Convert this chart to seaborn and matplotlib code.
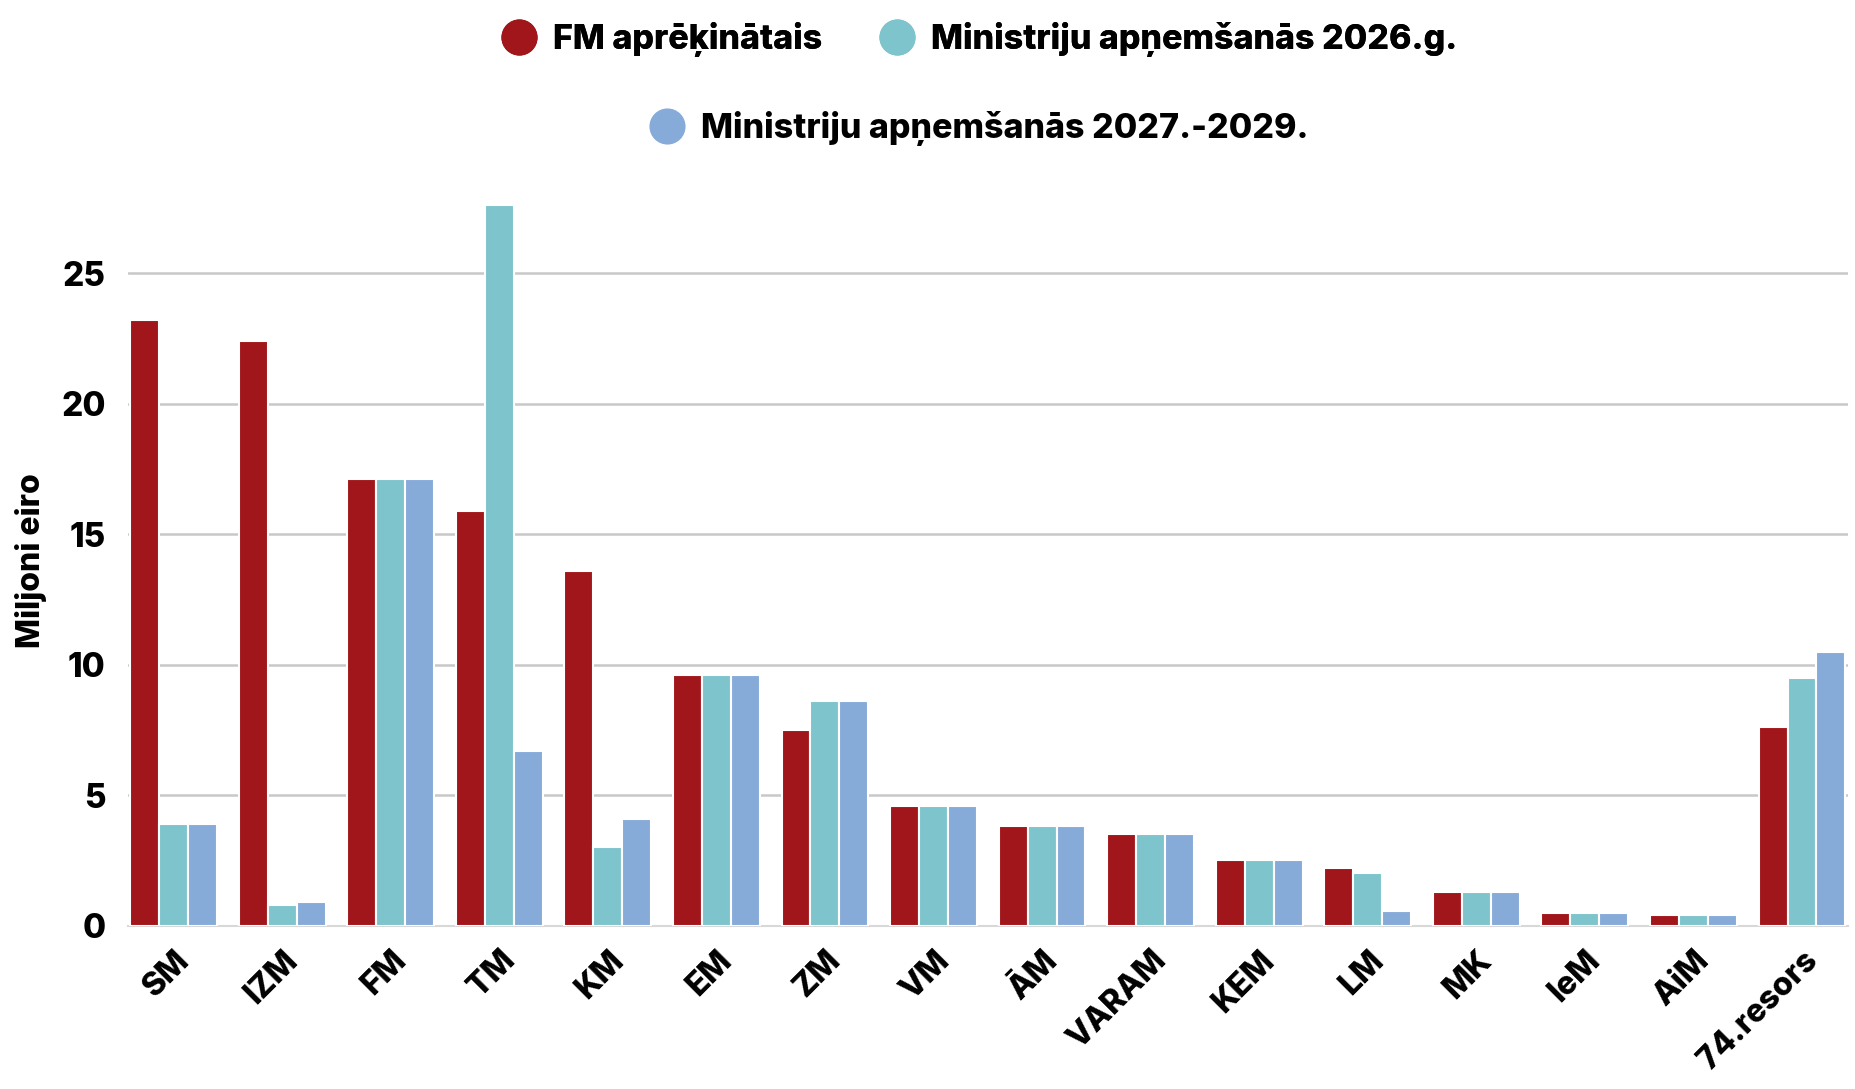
import numpy as np
import pandas as pd
import seaborn as sns
import matplotlib.pyplot as plt
from matplotlib.lines import Line2D

# ministries and the three series (millions of euro)
ministries = ["SM", "IZM", "FM", "TM", "KM", "EM", "ZM", "VM", "ĀM", "VARAM",
              "KEM", "LM", "MK", "IeM", "AiM", "74.resors"]
fm_calc = [23.2, 22.4, 17.1, 15.9, 13.6, 9.6, 7.5, 4.6, 3.8, 3.5, 2.5, 2.2, 1.3, 0.5, 0.4, 7.6]
min_2026 = [3.9, 0.8, 17.1, 27.6, 3.0, 9.6, 8.6, 4.6, 3.8, 3.5, 2.5, 2.0, 1.3, 0.5, 0.4, 9.5]
min_2027 = [3.9, 0.9, 17.1, 6.7, 4.1, 9.6, 8.6, 4.6, 3.8, 3.5, 2.5, 0.55, 1.3, 0.5, 0.4, 10.5]

series_names = ["FM aprēķinātais", "Ministriju apņemšanās 2026.g.",
                "Ministriju apņemšanās 2027.-2029."]
colors = ["#A0161B", "#7EC4CC", "#86ABD9"]

df = pd.DataFrame({
    "Ministrija": ministries * 3,
    "Vertiba": fm_calc + min_2026 + min_2027,
    "Serija": [series_names[0]] * 16 + [series_names[1]] * 16 + [series_names[2]] * 16,
})

sns.set_theme(style="white")
plt.rcParams["font.family"] = ["Inter", "DejaVu Sans"]
plt.rcParams["font.weight"] = "bold"
plt.rcParams["text.color"] = "black"
plt.rcParams["xtick.color"] = "black"
plt.rcParams["ytick.color"] = "black"
plt.rcParams["axes.labelcolor"] = "black"

fig = plt.figure(figsize=(18.55, 10.89), dpi=100)
ax = fig.add_axes([0.069, 0.150, 0.927, 0.671])

sns.barplot(data=df, x="Ministrija", y="Vertiba", hue="Serija", palette=colors,
            saturation=1, width=0.8, edgecolor="white", linewidth=1.5,
            legend=False, ax=ax, zorder=3)

ax.set_xlim(-0.42, 15.42)
ax.set_ylim(0, 28)
ax.set_yticks([0, 5, 10, 15, 20, 25])
ax.yaxis.grid(True, color="#C8C8C8", linewidth=1.8, zorder=0)
ax.set_axisbelow(True)
for s in ["top", "right", "left"]:
    ax.spines[s].set_visible(False)
ax.spines["bottom"].set_color("#D8D8D8")
ax.spines["bottom"].set_linewidth(1.5)

ax.tick_params(axis="y", length=0, pad=16, labelsize=24)
ax.tick_params(axis="x", length=0, pad=14, labelsize=23)
for lab in ax.get_yticklabels():
    lab.set_fontweight("heavy")
plt.setp(ax.get_xticklabels(), rotation=45, ha="right", rotation_mode="anchor",
         fontweight="heavy")

ax.set_xlabel("")
ax.set_ylabel("Miljoni eiro", fontsize=23, fontweight="heavy", labelpad=10)

# legend: two entries on the first row, one centred on the second
handles = [Line2D([], [], marker="o", linestyle="", markersize=25,
                  markerfacecolor=c, markeredgecolor=c) for c in colors]
leg_prop = {"size": 24.5, "weight": "heavy"}
leg1 = fig.legend(handles[:2], series_names[:2], loc="center", ncol=2,
                  bbox_to_anchor=(0.528, 0.964), frameon=False, prop=leg_prop,
                  handletextpad=0.5, columnspacing=1.7, handlelength=1.0)
fig.add_artist(leg1)
fig.legend(handles[2:], series_names[2:], loc="center",
           bbox_to_anchor=(0.528, 0.882), frameon=False, prop=leg_prop,
           handletextpad=0.5, handlelength=1.0)

fig.savefig("out.png", dpi=100)
